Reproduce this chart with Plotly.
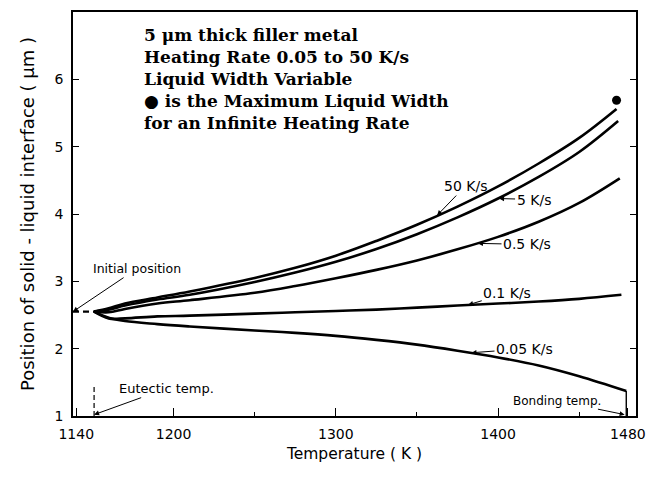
import numpy as np
import plotly.graph_objects as go

# Temperatures (K) at which the interface position was read for each heating rate
temps = [1151, 1160, 1170, 1190, 1210, 1250, 1275, 1300, 1325, 1350, 1375, 1400, 1425, 1450]
rate_labels = ["50 K/s", "5 K/s", "0.5 K/s", "0.1 K/s", "0.05 K/s"]
end_temps = [1473, 1474, 1475, 1476, 1479]

# Position of the solid-liquid interface (um)
pos_50 = [2.55, 2.60, 2.67, 2.76, 2.85, 3.05, 3.20, 3.38, 3.60, 3.84, 4.11, 4.41, 4.75, 5.13, 5.56]
pos_5 = [2.55, 2.58, 2.64, 2.73, 2.80, 2.99, 3.13, 3.29, 3.48, 3.70, 3.95, 4.23, 4.55, 4.92, 5.38]
pos_05 = [2.55, 2.54, 2.59, 2.67, 2.72, 2.83, 2.93, 3.045, 3.17, 3.31, 3.475, 3.66, 3.885, 4.165, 4.53]
pos_01 = [2.55, 2.45, 2.45, 2.48, 2.49, 2.52, 2.54, 2.56, 2.58, 2.61, 2.64, 2.67, 2.70, 2.74, 2.80]
pos_005 = [2.55, 2.46, 2.41, 2.365, 2.33, 2.27, 2.235, 2.19, 2.13, 2.06, 1.97, 1.87, 1.75, 1.59, 1.37]
positions = [pos_50, pos_5, pos_05, pos_01, pos_005]

# Temperatures where each rate label points at its curve
label_temps = [1362, 1400, 1387, 1381, 1383]

# Maximum liquid width for an infinite heating rate
inf_temp = 1473
inf_pos = 5.69

initial_pos = 2.55
eutectic_temp = 1151
bonding_temp = 1479

x_ticks = [1140, 1200, 1300, 1400, 1480]
y_ticks = [1, 2, 3, 4, 5, 6]

SANS = "DejaVu Sans"
SERIF = "DejaVu Serif"
INK = "black"

fig = go.Figure()

for label, end_t, pos in zip(rate_labels, end_temps, positions):
    fig.add_trace(go.Scatter(
        x=temps + [end_t], y=pos, mode="lines", name=label,
        line=dict(color=INK, width=2.6, shape="spline", smoothing=1.0),
        showlegend=False, hoverinfo="skip"))

# Initial position of the interface (dashed, from the axis to the start of the curves)
fig.add_trace(go.Scatter(
    x=[x_ticks[0] - 2, eutectic_temp], y=[initial_pos, initial_pos], mode="lines",
    line=dict(color=INK, width=2.4, dash="6px,4px"), showlegend=False, hoverinfo="skip"))

# Eutectic temperature marker
fig.add_trace(go.Scatter(
    x=[eutectic_temp, eutectic_temp], y=[1, 1.43], mode="lines",
    line=dict(color=INK, width=1.2, dash="5px,3px"), showlegend=False, hoverinfo="skip"))

# Bonding temperature marker
fig.add_trace(go.Scatter(
    x=[bonding_temp, bonding_temp], y=[1, pos_005[-1]], mode="lines",
    line=dict(color=INK, width=1.4), showlegend=False, hoverinfo="skip"))

# Infinite heating rate point
fig.add_trace(go.Scatter(
    x=[inf_temp], y=[inf_pos], mode="markers",
    marker=dict(color=INK, size=9), showlegend=False, hoverinfo="skip"))

# Rate labels with arrows pointing to the curves
label_offsets = [(29, -30), (36, 1), (50, 1), (40, -12), (54, -4)]
for label, t_lab, pos, end_t, (ax, ay) in zip(rate_labels, label_temps, positions,
                                               end_temps, label_offsets):
    fig.add_annotation(
        x=t_lab, y=float(np.interp(t_lab, temps + [end_t], pos)),
        text=label, showarrow=True, arrowhead=2, arrowsize=1, arrowwidth=1,
        arrowcolor=INK, ax=ax, ay=ay, standoff=1,
        font=dict(family=SANS, size=14, color=INK))

fig.add_annotation(
    x=x_ticks[0] - 2, y=initial_pos, text="Initial position", showarrow=True,
    arrowhead=2, arrowsize=1, arrowwidth=1, arrowcolor=INK, ax=64, ay=-43,
    font=dict(family=SANS, size=12.5, color=INK))
fig.add_annotation(
    x=eutectic_temp, y=1.02, text="Eutectic temp.", showarrow=True,
    arrowhead=2, arrowsize=1, arrowwidth=1, arrowcolor=INK, ax=72, ay=-26,
    font=dict(family=SANS, size=13, color=INK))
fig.add_annotation(
    x=bonding_temp - 1, y=1.02, text="Bonding temp.", showarrow=True,
    arrowhead=2, arrowsize=1, arrowwidth=1, arrowcolor=INK, ax=-68, ay=-14,
    font=dict(family=SANS, size=12, color=INK))

# Description block
fig.add_annotation(
    xref="paper", yref="paper", x=0.122, y=0.973, xanchor="left", yanchor="top",
    showarrow=False, align="left",
    text=("<b>5 \u03bcm thick filler metal<br>"
          "Heating Rate 0.05 to 50 K/s<br>"
          "Liquid Width Variable<br>"
          "\u25cf is the Maximum Liquid Width<br>"
          "for an Infinite Heating Rate</b>"),
    font=dict(family=SERIF, size=17, color=INK))

fig.update_xaxes(
    range=[1138, 1485], tickvals=x_ticks, ticktext=[str(t) for t in x_ticks],
    showline=True, linecolor=INK, linewidth=1.6, mirror=True,
    ticks="inside", ticklen=8, tickwidth=1.2, tickcolor=INK,
    minor=dict(tickvals=[1250, 1350, 1450], ticks="inside", ticklen=4, tickcolor=INK),
    showgrid=False, zeroline=False, ticklabelstandoff=4,
    tickfont=dict(family=SANS, size=14, color=INK),
    title=dict(text="Temperature ( K )", font=dict(family=SANS, size=15.5, color=INK),
               standoff=8))
fig.update_yaxes(
    range=[1, 7], tickvals=y_ticks,
    showline=True, linecolor=INK, linewidth=1.6, mirror="ticks",
    ticks="inside", ticklen=6, tickwidth=1.2, tickcolor=INK,
    showgrid=False, zeroline=False, ticklabelstandoff=5,
    tickfont=dict(family=SANS, size=14, color=INK),
    title=dict(text="Position of solid - liquid interface ( \u03bcm )",
               font=dict(family=SANS, size=18, color=INK), standoff=15))

fig.update_layout(
    width=656, height=488, margin=dict(l=73, r=20, t=10, b=72),
    paper_bgcolor="white", plot_bgcolor="white")

fig.write_html("out.html")
